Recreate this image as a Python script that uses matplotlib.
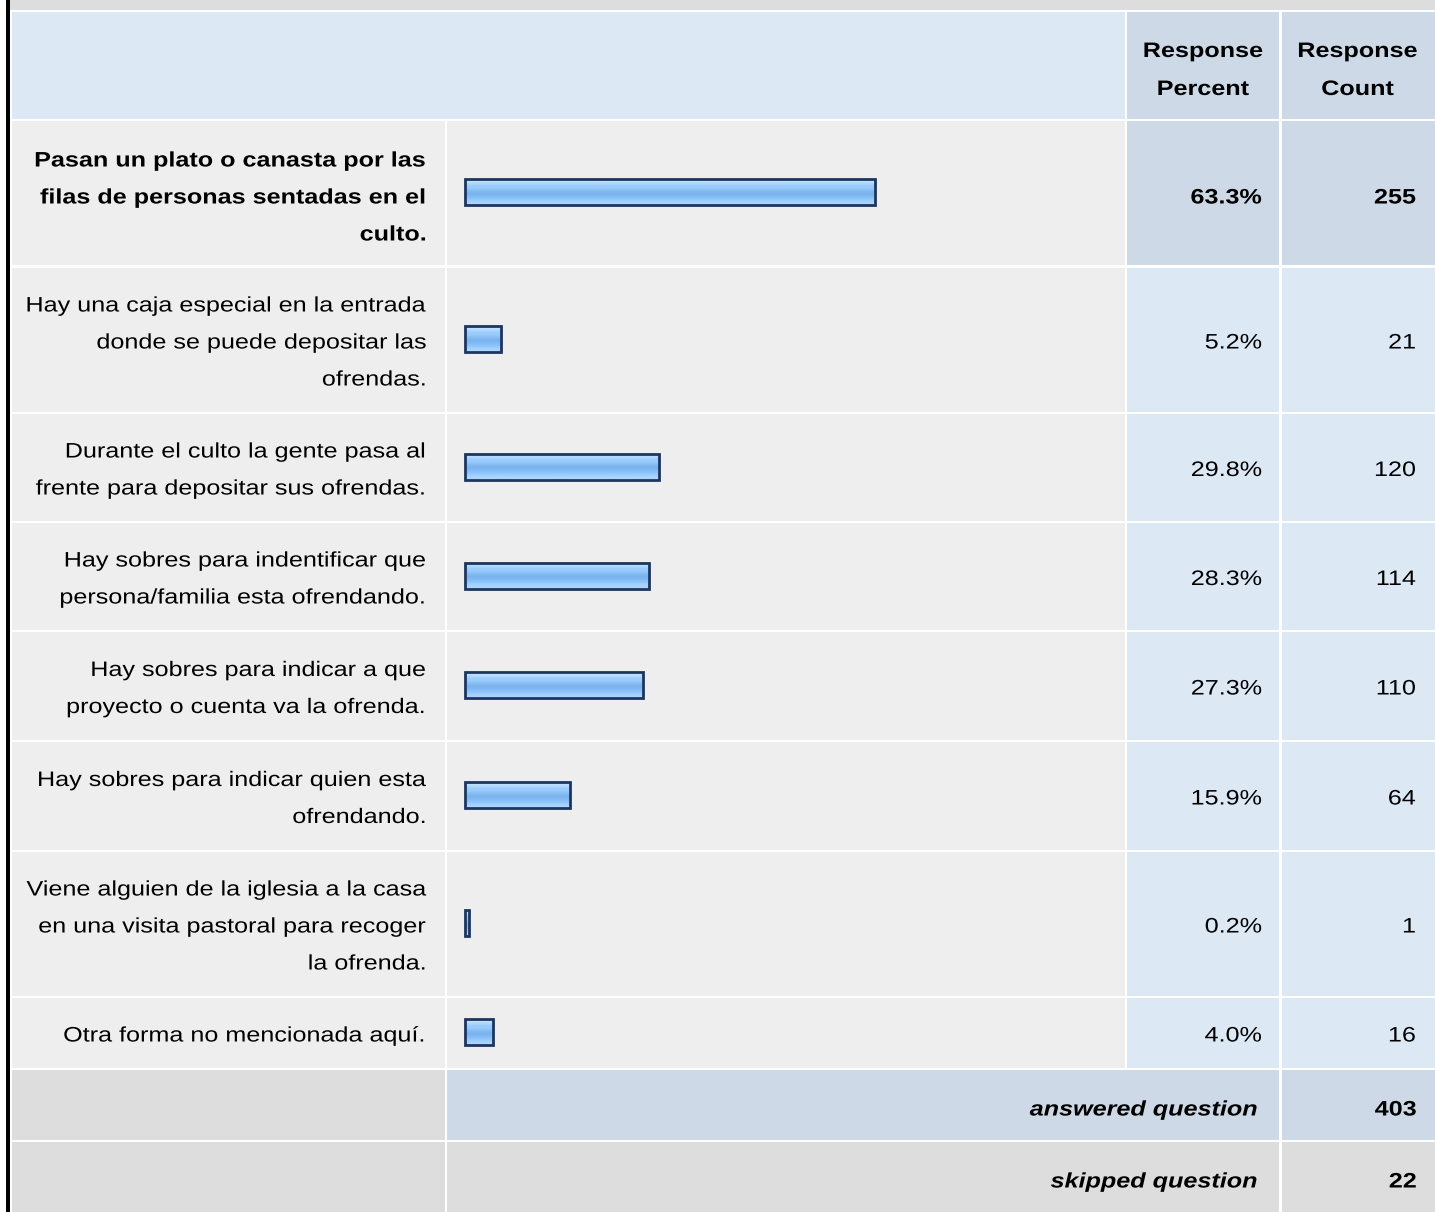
import matplotlib
matplotlib.use("Agg")
import matplotlib.pyplot as plt
from matplotlib.patches import Rectangle
from matplotlib.patheffects import AbstractPathEffect
from matplotlib.transforms import Affine2D
from matplotlib.colors import to_rgb
import numpy as np

# --- data ---
labels = [
    ["Pasan un plato o canasta por las", "filas de personas sentadas en el", "culto."],
    ["Hay una caja especial en la entrada", "donde se puede depositar las", "ofrendas."],
    ["Durante el culto la gente pasa al", "frente para depositar sus ofrendas."],
    ["Hay sobres para indentificar que", "persona/familia esta ofrendando."],
    ["Hay sobres para indicar a que", "proyecto o cuenta va la ofrenda."],
    ["Hay sobres para indicar quien esta", "ofrendando."],
    ["Viene alguien de la iglesia a la casa", "en una visita pastoral para recoger", "la ofrenda."],
    ["Otra forma no mencionada aquí."],
]
percents = [63.3, 5.2, 29.8, 28.3, 27.3, 15.9, 0.2, 4.0]
counts = [255, 21, 120, 114, 110, 64, 1, 16]
header_cols = ["Response\nPercent", "Response\nCount"]
answered = 403
skipped = 22

# --- layout (pixels) ---
W, H = 1435, 1212
col_label = (12, 445)
col_bar = (447, 1125)
col_pct = (1127, 1279)
col_cnt = (1282, 1435)
row_edges = [(121, 265), (268, 412), (414, 521), (523, 630),
             (632, 740), (742, 850), (852, 996), (998, 1068)]
header_row = (12, 119)
answered_row = (1070, 1140)
skipped_row = (1142, 1212)

FONT = "Liberation Sans"
FS = 15.1     # ~21 px
SX = 1.20     # the screenshot's text is horizontally wider than plain Arial
LINE = 37

C_GRAY = "#eeeeee"
C_DARKGRAY = "#dddddd"
C_LIGHTBLUE = "#dde8f5"
C_BLUE = "#cdd9e6"

fig = plt.figure(figsize=(W / 100, H / 100), dpi=100)
ax = fig.add_axes([0, 0, 1, 1])
ax.set_xlim(0, W)
ax.set_ylim(H, 0)
ax.axis("off")


class HStretch(AbstractPathEffect):
    """Stretch glyphs horizontally around the text's anchor point."""

    def __init__(self, x_anchor, sx):
        super().__init__()
        self.xa = x_anchor
        self.sx = sx

    def draw_path(self, renderer, gc, tpath, affine, rgbFace=None):
        xd = ax.transData.transform((self.xa, 0))[0]
        aff = affine + Affine2D().translate(-xd, 0).scale(self.sx, 1).translate(xd, 0)
        renderer.draw_path(gc, tpath, aff, rgbFace)


def cell(x, y, color):
    ax.add_patch(Rectangle((x[0], y[0]), x[1] - x[0], y[1] - y[0],
                           facecolor=color, edgecolor="none"))


def lines(xpos, baseline_mid, texts, ha="right", weight="normal", style="normal", step=LINE):
    n = len(texts)
    for i, t in enumerate(texts):
        yy = baseline_mid + (i - (n - 1) / 2) * step
        ax.text(xpos, yy, t, ha=ha, va="baseline", fontsize=FS, family=FONT,
                weight=weight, style=style, color="black",
                path_effects=[HStretch(xpos, SX)])


# top strip and left border
ax.add_patch(Rectangle((10, 0), W - 10, 10, facecolor=C_DARKGRAY, edgecolor="none"))
ax.add_patch(Rectangle((6, 0), 4, H, facecolor="black", edgecolor="none"))

# header
cell((col_label[0], col_bar[1]), header_row, C_LIGHTBLUE)
cell(col_pct, header_row, C_BLUE)
cell(col_cnt, header_row, C_BLUE)
hb = (header_row[0] + header_row[1]) / 2 + 10.5
lines((col_pct[0] + col_pct[1]) / 2, hb, header_cols[0].split("\n"), ha="center",
      weight="bold", step=38)
lines((col_cnt[0] + col_cnt[1]) / 2 - 1, hb, header_cols[1].split("\n"), ha="center",
      weight="bold", step=38)

# bar gradient
grad_hex = ["#c6e2fd", "#b4dafd", "#9ccdfd", "#96cafd", "#86bdf2", "#7ab2ec",
            "#80b9f3", "#8cc3fc", "#a0cffd", "#acd6fd"]
grad = np.array([[to_rgb(c)] for c in grad_hex])

scale = 6.43
BAR_H = 26
for i, (lab, p, c) in enumerate(zip(labels, percents, counts)):
    r = row_edges[i]
    yc = (r[0] + r[1]) / 2
    top = i == 0
    cell(col_label, r, C_GRAY)
    cell(col_bar, r, C_GRAY)
    cell(col_pct, r, C_BLUE if top else C_LIGHTBLUE)
    cell(col_cnt, r, C_BLUE if top else C_LIGHTBLUE)
    wt = "bold" if top else "normal"
    off = 10.5 if top else 8.5
    lines(427, yc + off, lab, weight=wt)
    lines(1262, yc + off, [f"{p:.1f}%"], weight=wt)
    lines(1416, yc + off, [str(c)], weight=wt)

    x0 = 464.5
    bw = 3 + p * scale
    y0 = yc - 1 - BAR_H / 2
    ax.imshow(grad, extent=(x0, x0 + bw, y0 + BAR_H, y0), aspect="auto",
              interpolation="bilinear", zorder=3)
    ax.add_patch(Rectangle((x0, y0), bw, BAR_H, facecolor="none",
                           edgecolor="#1d365f", linewidth=2.0, zorder=4))

ax.set_xlim(0, W)
ax.set_ylim(H, 0)

# answered / skipped rows
cell(col_label, answered_row, C_DARKGRAY)
cell((col_bar[0], col_pct[1]), answered_row, C_BLUE)
cell(col_cnt, answered_row, C_BLUE)
ab = (answered_row[0] + answered_row[1]) / 2 + 10.5
lines(1258, ab, ["answered question"], weight="bold", style="italic")
lines(1417, ab, [str(answered)], weight="bold")

cell(col_label, skipped_row, C_DARKGRAY)
cell((col_bar[0], col_pct[1]), skipped_row, C_DARKGRAY)
cell(col_cnt, skipped_row, C_DARKGRAY)
sb = (skipped_row[0] + skipped_row[1]) / 2 + 10.5
lines(1258, sb, ["skipped question"], weight="bold", style="italic")
lines(1417, sb, [str(skipped)], weight="bold")

fig.savefig("out.png", dpi=100, facecolor="white")
